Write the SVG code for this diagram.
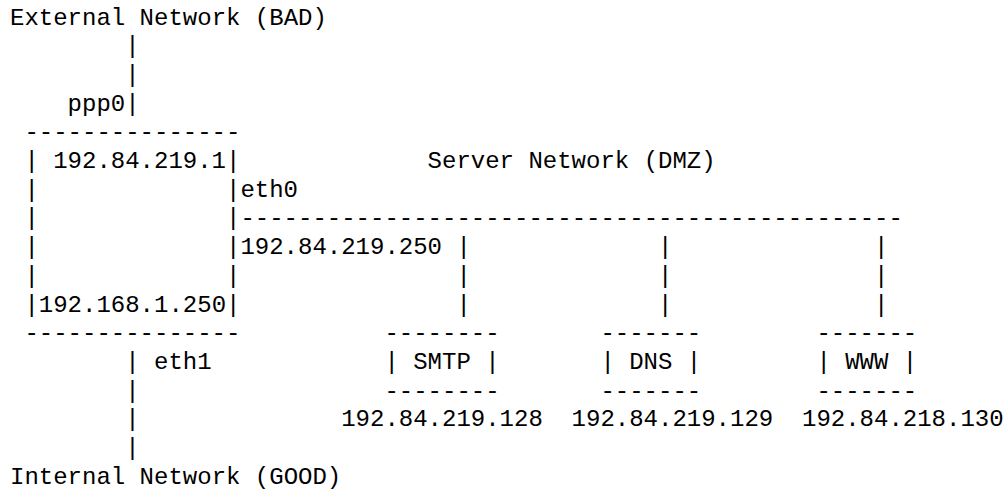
<svg xmlns="http://www.w3.org/2000/svg" width="1007" height="489" viewBox="0 0 1007 489">
<style>
text{font-family:"Liberation Mono","Courier New",monospace;font-size:24px;fill:#000;white-space:pre}
</style>
<rect width="1007" height="489" fill="#fff"/>
<g id="external">
<text x="10" y="24.5">External Network (BAD)</text>
</g>
<g id="firewall">
<text x="24.4" y="139.3">---------------</text>
<text x="24.4" y="168">|</text><text x="53.2" y="168">192.84.219.1</text><text x="226" y="168">|</text>
<text x="24.4" y="196.7">|</text><text x="226" y="196.7">|</text>
<text x="24.4" y="225.4">|</text><text x="226" y="225.4">|</text>
<text x="24.4" y="254.1">|</text><text x="226" y="254.1">|</text>
<text x="24.4" y="282.8">|</text><text x="226" y="282.8">|</text>
<text x="24.4" y="311.5">|</text><text x="38.8" y="311.5">192.168.1.250</text><text x="226" y="311.5">|</text>
<text x="24.4" y="340.2">---------------</text>
</g>
<g id="dmz-label">
<text x="427.6" y="168">Server Network (DMZ)</text>
</g>
<g id="smtp">
<text x="384.4" y="340.2">--------</text>
<text x="384.4" y="368.9">| SMTP |</text>
<text x="384.4" y="397.6">--------</text>
<text x="341.2" y="426.3">192.84.219.128</text>
</g>
<g id="dns">
<text x="600.4" y="340.2">-------</text>
<text x="600.4" y="368.9">| DNS |</text>
<text x="600.4" y="397.6">-------</text>
<text x="571.6" y="426.3">192.84.219.129</text>
</g>
<g id="www">
<text x="816.4" y="340.2">-------</text>
<text x="816.4" y="368.9">| WWW |</text>
<text x="816.4" y="397.6">-------</text>
<text x="802" y="426.3">192.84.218.130</text>
</g>
<g id="internal">
<text x="10" y="483.7">Internal Network (GOOD)</text>
</g>
<g id="connectors">
<text x="125.2" y="53.2">|</text>
<text x="125.2" y="81.9">|</text>
<text x="67.6" y="110.6">ppp0</text><text x="125.2" y="110.6">|</text>
<text x="240.4" y="196.7">eth0</text>
<text x="240.4" y="225.4">----------------------------------------------</text>
<text x="240.4" y="254.1">192.84.219.250</text>
<text x="456.4" y="254.1">|</text><text x="658" y="254.1">|</text><text x="874" y="254.1">|</text>
<text x="456.4" y="282.8">|</text><text x="658" y="282.8">|</text><text x="874" y="282.8">|</text>
<text x="456.4" y="311.5">|</text><text x="658" y="311.5">|</text><text x="874" y="311.5">|</text>
<text x="125.2" y="368.9">|</text><text x="154" y="368.9">eth1</text>
<text x="125.2" y="397.6">|</text>
<text x="125.2" y="426.3">|</text>
<text x="125.2" y="455">|</text>
</g>
</svg>
